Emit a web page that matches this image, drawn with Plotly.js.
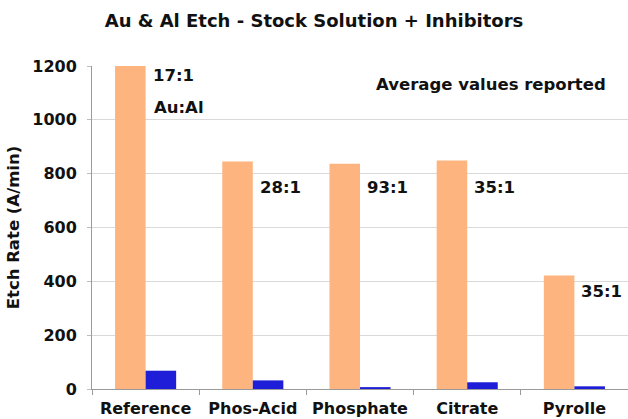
<!DOCTYPE html>
<html>
<head>
<meta charset="utf-8">
<script src="https://cdn.plot.ly/plotly-3.0.1.min.js"></script>
<style>html,body{margin:0;padding:0;background:#fff;}#chart{width:628px;height:419px;}</style>
</head>
<body>
<div id="chart"></div>
<script>
var categories = ["Reference", "Phos-Acid", "Phosphate", "Citrate", "Pyrolle"];
var auRate = [1200, 845, 837, 849, 422];
var alRate = [68, 32, 7, 25, 10];
var ratioLabels = ["17:1", "28:1", "93:1", "35:1", "35:1"];
var ratioY = [1165, 750, 750, 750, 364];
var yTicks = [0, 200, 400, 600, 800, 1000, 1200];

var FONT = "DejaVu Sans, Verdana, sans-serif";

var traces = [
  {type: "bar", name: "Au", x: categories, y: auRate,
   marker: {color: "#FDB47F", line: {width: 0}}, hoverinfo: "x+y"},
  {type: "bar", name: "Al", x: categories, y: alRate,
   marker: {color: "#1E1ED8", line: {width: 0}}, hoverinfo: "x+y"}
];

var annotations = categories.map(function (c, i) {
  return {x: c, y: ratioY[i], xref: "x", yref: "y", text: ratioLabels[i],
          showarrow: false, xanchor: "left", yanchor: "middle", xshift: 5,
          font: {family: FONT, size: 16.5, color: "#111", weight: "bold"}};
});
annotations.push({x: categories[0], y: 1046, xref: "x", yref: "y", text: "Au:Al",
  showarrow: false, xanchor: "left", yanchor: "middle", xshift: 6,
  font: {family: FONT, size: 16.5, color: "#111", weight: "bold"}});
annotations.push({x: 608, y: 1130, xref: "paper", yref: "y", text: "Average values reported",
  showarrow: false, xanchor: "right", yanchor: "middle",
  font: {family: FONT, size: 16.5, color: "#111", weight: "bold"}});
annotations[annotations.length - 1].x = (608 - 92) / (628 - 92);

var layout = {
  width: 628, height: 419,
  margin: {l: 92, r: 0, t: 66, b: 30},
  paper_bgcolor: "#fff", plot_bgcolor: "#fff",
  showlegend: false,
  barmode: "group", bargap: 0.43, bargroupgap: 0,
  font: {family: FONT, size: 16, color: "#111"},
  title: {text: "Au &amp; Al Etch - Stock Solution + Inhibitors",
          x: 0.5, xref: "container", y: 1 - 21 / 419, yref: "container", yanchor: "middle",
          font: {family: FONT, size: 18, color: "#111", weight: "bold"}},
  xaxis: {type: "category", tickson: "boundaries", ticks: "outside", ticklen: 5,
          tickcolor: "#9a9a9a", showline: true, linecolor: "#9a9a9a", linewidth: 1,
          ticklabelstandoff: 5,
          showgrid: false, tickfont: {family: FONT, size: 16, color: "#111", weight: "bold"}},
  yaxis: {range: [0, 1200], tickvals: yTicks, ticks: "outside", ticklen: 4,
          tickcolor: "#bdbdbd", showline: true, linecolor: "#9a9a9a", linewidth: 1,
          showgrid: true, gridcolor: "#d9d9d9", zeroline: false, ticklabelstandoff: 7,
          tickfont: {family: FONT, size: 16, color: "#111", weight: "bold"},
          title: {text: "Etch Rate (A/min)", standoff: 8,
                  font: {family: FONT, size: 16.5, color: "#111", weight: "bold"}}},
  annotations: annotations
};

Plotly.newPlot("chart", traces, layout, {displayModeBar: false, staticPlot: true});
</script>
</body>
</html>
